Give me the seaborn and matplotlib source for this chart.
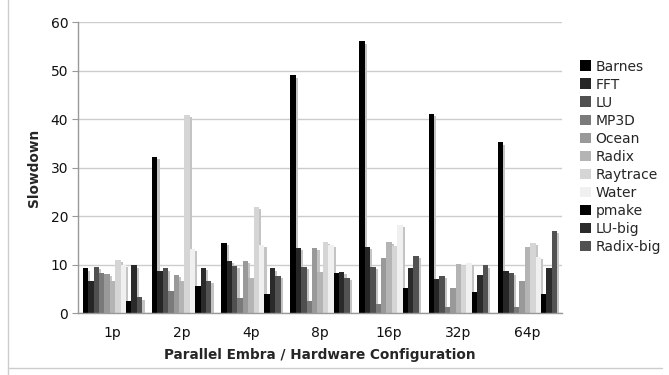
import pandas as pd
import seaborn as sns
import matplotlib.pyplot as plt
import matplotlib.patheffects as pe
from matplotlib.lines import Line2D

# Values
configs = ["1p", "2p", "4p", "8p", "16p", "32p", "64p"]
benchmarks = ["Barnes", "FFT", "LU", "MP3D", "Ocean", "Radix", "Raytrace",
              "Water", "pmake", "LU-big", "Radix-big"]
barnes = [9.2, 32.2, 14.5, 49.0, 56.0, 41.0, 35.2]
fft = [6.6, 8.7, 10.7, 13.5, 13.6, 7.0, 8.7]
lu = [9.5, 9.2, 9.7, 9.5, 9.5, 7.6, 8.2]
mp3d = [8.2, 4.6, 3.0, 2.5, 1.9, 1.2, 1.2]
ocean = [8.0, 7.8, 10.7, 13.5, 11.3, 5.2, 6.5]
radix = [6.5, 6.7, 7.2, 8.5, 14.7, 10.1, 13.6]
raytrace = [11.0, 40.8, 21.9, 14.7, 13.9, 9.6, 14.5]
water = [10.0, 13.2, 14.0, 14.0, 18.2, 10.4, 11.5]
pmake = [2.5, 5.6, 4.0, 8.2, 5.2, 4.3, 4.0]
lu_big = [9.8, 9.3, 9.2, 8.5, 9.3, 7.8, 9.2]
radix_big = [3.2, 6.6, 7.7, 7.3, 11.8, 9.8, 17.0]

colors = ["#000000", "#262626", "#505050", "#7a7a7a", "#999999", "#b4b4b4",
          "#d5d5d5", "#f0f0f0", "#000000", "#2a2a2a", "#525252"]

series = [barnes, fft, lu, mp3d, ocean, radix, raytrace, water, pmake, lu_big, radix_big]
rows = []
for name, vals in zip(benchmarks, series):
    for c, v in zip(configs, vals):
        rows.append({"config": c, "bench": name, "slowdown": v})
df = pd.DataFrame(rows)

sns.set_style("white")
plt.rcParams["font.family"] = ["DejaVu Sans"]

fig = plt.figure(figsize=(6.69, 3.75), dpi=100)
ax = fig.add_axes([0.1166, 0.1653, 0.7235, 0.776])

ax.yaxis.grid(True, color="#cccccc", linewidth=1)
ax.set_axisbelow(True)

sns.barplot(data=df, x="config", y="slowdown", hue="bench", order=configs,
            hue_order=benchmarks, palette=colors, width=0.86, ax=ax,
            saturation=1, linewidth=0, edgecolor="none", errorbar=None)

shadow = [pe.SimplePatchShadow(offset=(1.6, -1.6), shadow_rgbFace="#c4c4c4", alpha=1.0),
          pe.Normal()]
for p in ax.patches:
    p.set_path_effects(shadow)

ax.set_ylim(0, 60)
ax.set_xlim(-0.5, 6.5)
ax.set_yticks(range(0, 61, 10))
ax.set_xticks(range(len(configs)))
ax.set_xticklabels(configs)
ax.set_xticks([i - 0.5 for i in range(len(configs) + 1)], minor=True)
ax.tick_params(axis="x", which="major", length=0, pad=9, labelsize=10, colors="#111111")
ax.tick_params(axis="x", which="minor", length=4, color="#999999", direction="out")
ax.tick_params(axis="y", length=4, color="#999999", direction="out", labelsize=10,
               pad=3, left=True, labelcolor="#111111")

for s in ["top", "right"]:
    ax.spines[s].set_visible(False)
for s in ["left", "bottom"]:
    ax.spines[s].set_color("#999999")
    ax.spines[s].set_linewidth(1)

ax.set_xlabel("Parallel Embra / Hardware Configuration", fontsize=9.8,
              fontweight="bold", labelpad=6)
ax.set_ylabel("Slowdown", fontsize=9.8, fontweight="bold", labelpad=7)

handles, labels = ax.get_legend_handles_labels()
for h in handles:
    h.set_path_effects([])
ax.legend(handles, labels, loc="upper left", bbox_to_anchor=(0.859, 0.856),
          bbox_transform=fig.transFigure, frameon=False, fontsize=10,
          handlelength=0.8, handleheight=0.8, handletextpad=0.3,
          labelspacing=0.29, borderaxespad=0)

# outer chart border (left and bottom)
fig.add_artist(Line2D([0.012, 0.012], [0.0, 1.0], color="#cccccc", lw=1,
                      transform=fig.transFigure))
fig.add_artist(Line2D([0.012, 0.99], [0.018, 0.018], color="#cccccc", lw=1,
                      transform=fig.transFigure))

fig.savefig("out.png", dpi=100)
